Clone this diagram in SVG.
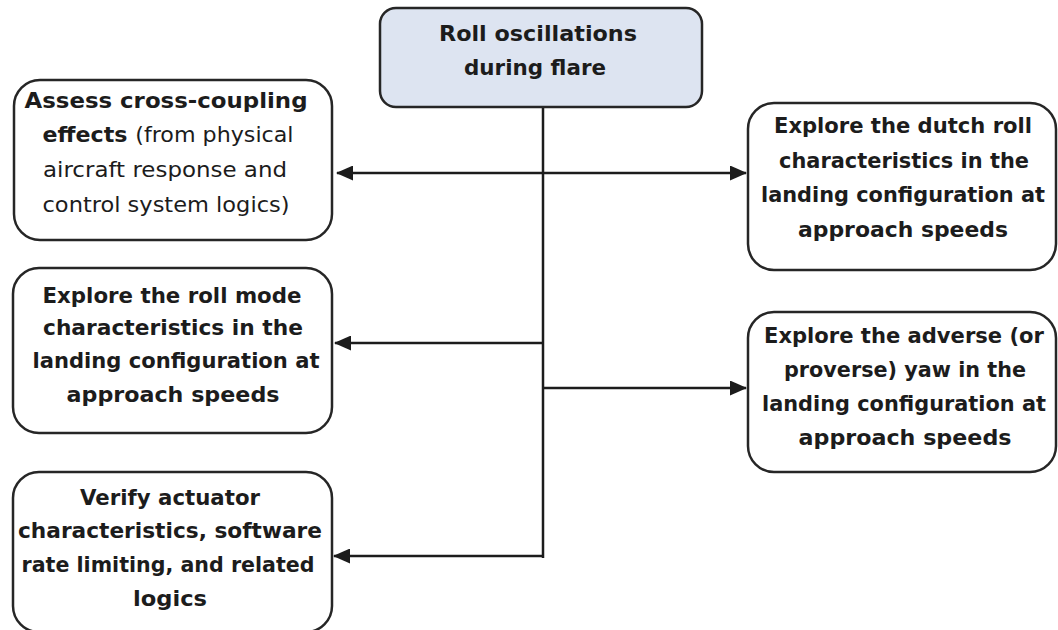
<svg xmlns="http://www.w3.org/2000/svg" width="1058" height="630" viewBox="0 0 1058 630">
  <style>
    .box { fill: #ffffff; stroke: #262626; stroke-width: 2.5; }
    .root { fill: #dde4f1; }
    .t { font-family: "DejaVu Sans", "Liberation Sans", sans-serif; font-size: 22px; font-weight: bold; fill: #1c1c1c; text-anchor: middle; }
    .n { font-weight: normal; }
    .s { font-size: 20.5px; }
    .link { fill: none; stroke: #1c1c1c; stroke-width: 2.5; }
  </style>
  <defs>
    <marker id="arrow" markerUnits="userSpaceOnUse" markerWidth="17" markerHeight="15" refX="16" refY="7.5" orient="auto-start-reverse">
      <path d="M0,0 L17,7.5 L0,15 z" fill="#1c1c1c"/>
    </marker>
  </defs>
  <rect width="1058" height="630" fill="#ffffff"/>

  <!-- connectors -->
  <g id="connectors">
    <path class="link" d="M543,107 V558"/>
    <path class="link" d="M337,173 H746" marker-start="url(#arrow)" marker-end="url(#arrow)"/>
    <path class="link" d="M543,343 H335" marker-end="url(#arrow)"/>
    <path class="link" d="M543,388 H746" marker-end="url(#arrow)"/>
    <path class="link" d="M543,556 H334" marker-end="url(#arrow)"/>
  </g>

  <g id="roll-oscillations">
    <rect class="box root" x="380" y="8" width="322" height="99" rx="16"/>
    <text class="t" x="538" y="41" textLength="198" lengthAdjust="spacingAndGlyphs">Roll oscillations</text>
    <text class="t" x="535" y="75" textLength="142" lengthAdjust="spacingAndGlyphs">during flare</text>
  </g>

  <g id="cross-coupling">
    <rect class="box" x="14" y="80" width="318" height="160" rx="26"/>
    <text class="t" x="166" y="108" textLength="283" lengthAdjust="spacingAndGlyphs">Assess cross-coupling</text>
    <text class="t" x="168" y="142" textLength="251" lengthAdjust="spacingAndGlyphs">effects <tspan class="n">(from physical</tspan></text>
    <text class="t n" x="165" y="177" textLength="244" lengthAdjust="spacingAndGlyphs">aircraft response and</text>
    <text class="t n" x="166" y="212" textLength="247" lengthAdjust="spacingAndGlyphs">control system logics)</text>
  </g>

  <g id="dutch-roll">
    <rect class="box" x="748" y="103" width="308" height="167" rx="26"/>
    <text class="t" x="903" y="133" textLength="258" lengthAdjust="spacingAndGlyphs">Explore the dutch roll</text>
    <text class="t" x="904" y="168" textLength="250" lengthAdjust="spacingAndGlyphs">characteristics in the</text>
    <text class="t s" x="903" y="202" textLength="284" lengthAdjust="spacingAndGlyphs">landing configuration at</text>
    <text class="t" x="903" y="237" textLength="210" lengthAdjust="spacingAndGlyphs">approach speeds</text>
  </g>

  <g id="roll-mode">
    <rect class="box" x="13" y="268" width="319" height="165" rx="26"/>
    <text class="t" x="172" y="303" textLength="259" lengthAdjust="spacingAndGlyphs">Explore the roll mode</text>
    <text class="t" x="173" y="335" textLength="260" lengthAdjust="spacingAndGlyphs">characteristics in the</text>
    <text class="t" x="176" y="368" textLength="287" lengthAdjust="spacingAndGlyphs">landing configuration at</text>
    <text class="t" x="173" y="402" textLength="213" lengthAdjust="spacingAndGlyphs">approach speeds</text>
  </g>

  <g id="adverse-yaw">
    <rect class="box" x="748" y="312" width="308" height="160" rx="26"/>
    <text class="t" x="904" y="343" textLength="280" lengthAdjust="spacingAndGlyphs">Explore the adverse (or</text>
    <text class="t" x="905" y="377" textLength="242" lengthAdjust="spacingAndGlyphs">proverse) yaw in the</text>
    <text class="t s" x="904" y="411" textLength="284" lengthAdjust="spacingAndGlyphs">landing configuration at</text>
    <text class="t" x="905" y="445" textLength="213" lengthAdjust="spacingAndGlyphs">approach speeds</text>
  </g>

  <g id="actuator">
    <rect class="box" x="13" y="472" width="319" height="160" rx="26"/>
    <text class="t" x="170" y="505" textLength="180" lengthAdjust="spacingAndGlyphs">Verify actuator</text>
    <text class="t" x="170" y="538" textLength="304" lengthAdjust="spacingAndGlyphs">characteristics, software</text>
    <text class="t" x="168" y="572" textLength="293" lengthAdjust="spacingAndGlyphs">rate limiting, and related</text>
    <text class="t" x="170" y="606" textLength="74" lengthAdjust="spacingAndGlyphs">logics</text>
  </g>
</svg>
